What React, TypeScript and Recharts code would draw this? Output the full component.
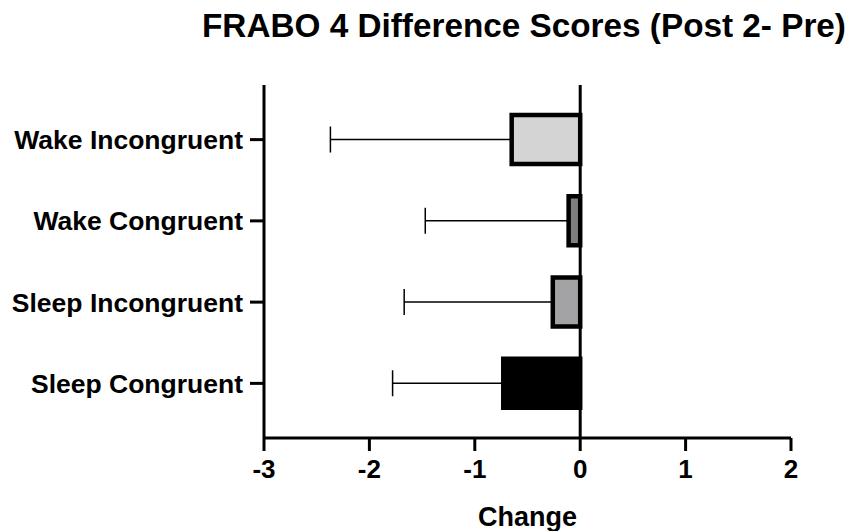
import React from 'react';
import { BarChart, Bar, XAxis, YAxis, Cell, ErrorBar, ReferenceLine, Label } from 'recharts';

const groups = ['Wake Incongruent', 'Wake Congruent', 'Sleep Incongruent', 'Sleep Congruent'];
const meanChange = [-0.65, -0.11, -0.26, -0.73];
const errorSize = [1.72, 1.36, 1.41, 1.05];
const fillColors = ['#d4d4d4', '#7e7e7e', '#a3a3a5', '#000000'];
const xTicks = [-3, -2, -1, 0, 1, 2];

const data = groups.map((name, i) => ({ name, value: meanChange[i], err: [errorSize[i], 0] }));

const fontFamily = '"Liberation Sans", Arial, sans-serif';

export default function App() {
  return (
    <div style={{ position: 'absolute', left: 0, top: 0, width: 857, height: 531, background: '#fff' }}>
      <div
        style={{
          position: 'absolute',
          left: 124,
          top: 9,
          width: 800,
          textAlign: 'center',
          fontFamily,
          fontWeight: 700,
          fontSize: 33.3,
          lineHeight: '33.3px',
          color: '#000',
          whiteSpace: 'nowrap',
        }}
      >
        FRABO 4 Difference Scores (Post 2- Pre)
      </div>
      <BarChart
        width={857}
        height={531}
        layout="vertical"
        data={data}
        margin={{ top: 85, right: 66, bottom: 33, left: 0 }}
        barSize={49}
      >
        <XAxis
          type="number"
          domain={[-3, 2]}
          ticks={xTicks}
          allowDataOverflow
          height={60}
          axisLine={{ stroke: '#000', strokeWidth: 3 }}
          tickLine={{ stroke: '#000', strokeWidth: 3 }}
          tickSize={13}
          tickMargin={9}
          tick={{ fill: '#000', fontSize: 26, fontWeight: 700, fontFamily }}
        >
          <Label
            value="Change"
            position="bottom"
            offset={9}
            style={{ fill: '#000', fontSize: 27, fontWeight: 700, fontFamily }}
          />
        </XAxis>
        <YAxis
          type="category"
          dataKey="name"
          width={264}
          padding={{ top: 14, bottom: 14 }}
          axisLine={{ stroke: '#000', strokeWidth: 3 }}
          tickLine={{ stroke: '#000', strokeWidth: 3 }}
          tickSize={14}
          tickMargin={7}
          tick={{ fill: '#000', fontSize: 26.5, fontWeight: 700, fontFamily }}
        />
        <Bar dataKey="value" isAnimationActive={false} stroke="#000" strokeWidth={4.5}>
          {data.map((d, i) => (
            <Cell key={d.name} fill={fillColors[i]} />
          ))}
          <ErrorBar dataKey="err" direction="x" width={13} stroke="#000" strokeWidth={1.5} />
        </Bar>
        <ReferenceLine x={0} stroke="#000" strokeWidth={3} />
      </BarChart>
    </div>
  );
}
